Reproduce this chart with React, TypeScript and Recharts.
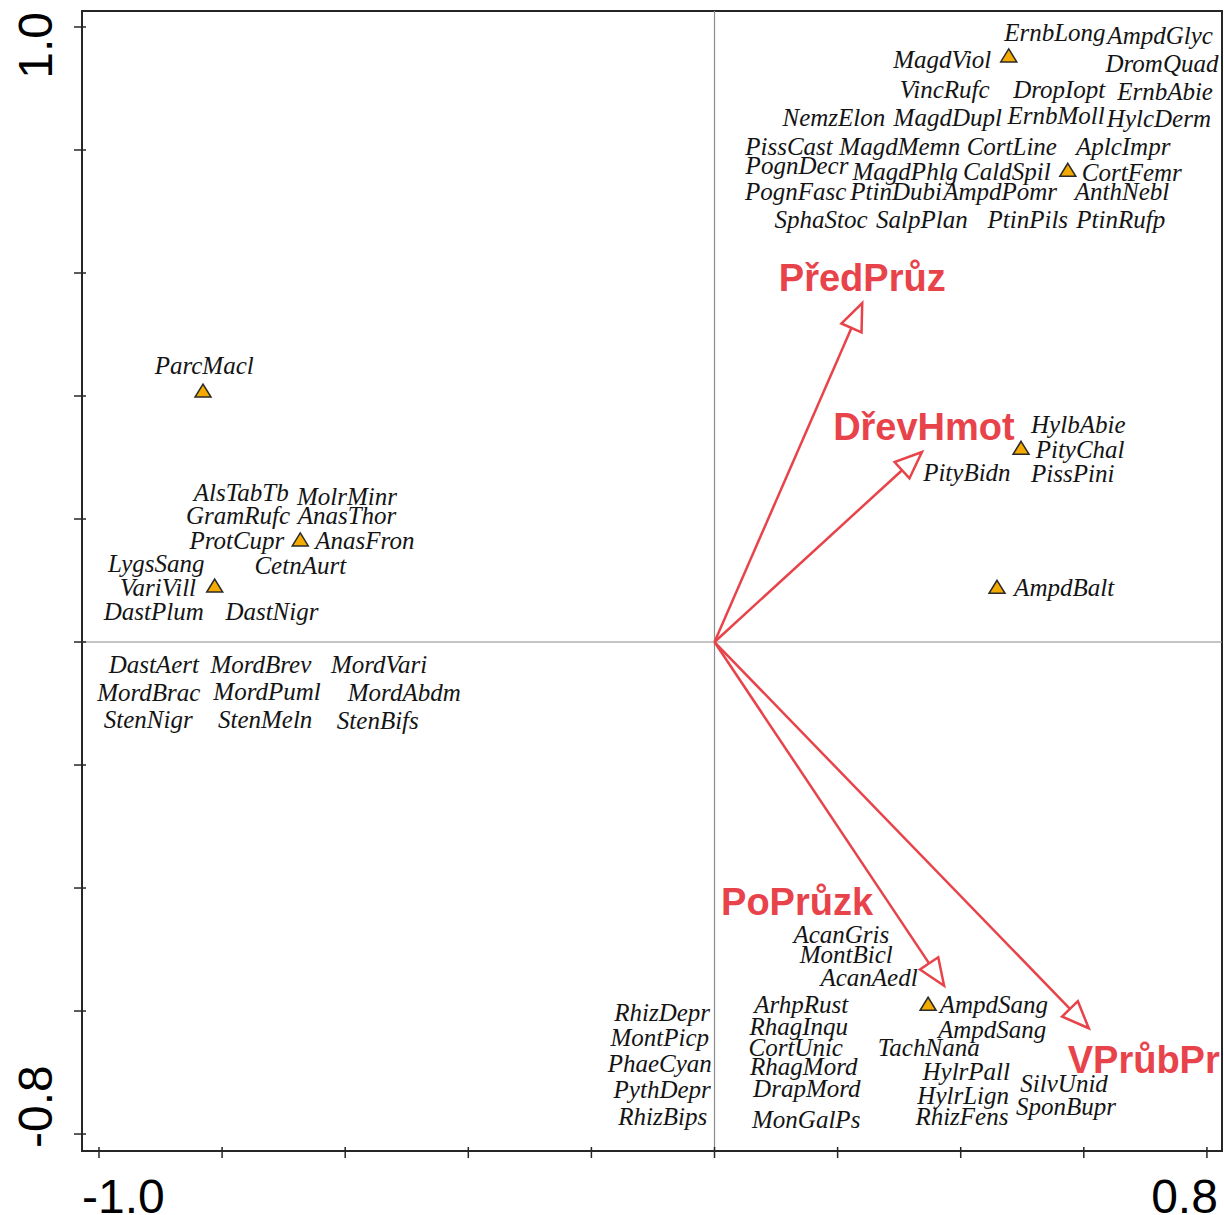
import React from 'react';
import {
  ScatterChart,
  Scatter,
  XAxis,
  YAxis,
  ReferenceLine,
  ReferenceArea,
} from 'recharts';

// Species scores (axis 1, axis 2), drawn as italic labels
const upperSpecies = [
  { name: 'ErnbLong', x: 0.553, y: 0.99 },
  { name: 'AmpdGlyc', x: 0.724, y: 0.985 },
  { name: 'MagdViol', x: 0.37, y: 0.946 },
  { name: 'DromQuad', x: 0.727, y: 0.941 },
  { name: 'VincRufc', x: 0.374, y: 0.898 },
  { name: 'DropIopt', x: 0.56, y: 0.898 },
  { name: 'ErnbAbie', x: 0.732, y: 0.894 },
  { name: 'NemzElon', x: 0.194, y: 0.852 },
  { name: 'MagdDupl', x: 0.379, y: 0.852 },
  { name: 'ErnbMoll', x: 0.555, y: 0.855 },
  { name: 'HylcDerm', x: 0.722, y: 0.85 },
  { name: 'PissCast', x: 0.121, y: 0.805 },
  { name: 'MagdMemn', x: 0.301, y: 0.805 },
  { name: 'CortLine', x: 0.483, y: 0.805 },
  { name: 'AplcImpr', x: 0.664, y: 0.805 },
  { name: 'PognDecr', x: 0.134, y: 0.774 },
  { name: 'MagdPhlg', x: 0.31, y: 0.764 },
  { name: 'CaldSpil', x: 0.475, y: 0.764 },
  { name: 'CortFemr', x: 0.678, y: 0.763 },
  { name: 'PognFasc', x: 0.132, y: 0.732 },
  { name: 'PtinDubi', x: 0.295, y: 0.732 },
  { name: 'AmpdPomr', x: 0.464, y: 0.732 },
  { name: 'AnthNebl', x: 0.662, y: 0.732 },
  { name: 'SphaStoc', x: 0.173, y: 0.686 },
  { name: 'SalpPlan', x: 0.337, y: 0.686 },
  { name: 'PtinPils', x: 0.509, y: 0.686 },
  { name: 'PtinRufp', x: 0.66, y: 0.686 },
];

const middleSpecies = [
  { name: 'HylbAbie', x: 0.591, y: 0.354 },
  { name: 'PityChal', x: 0.594, y: 0.312 },
  { name: 'PityBidn', x: 0.41, y: 0.275 },
  { name: 'PissPini', x: 0.582, y: 0.273 },
  { name: 'AmpdBalt', x: 0.568, y: 0.088 },
];

const leftSpecies = [
  { name: 'ParcMacl', x: -0.829, y: 0.449 },
  { name: 'AlsTabTb', x: -0.769, y: 0.242 },
  { name: 'MolrMinr', x: -0.597, y: 0.237 },
  { name: 'GramRufc', x: -0.774, y: 0.205 },
  { name: 'AnasThor', x: -0.597, y: 0.205 },
  { name: 'ProtCupr', x: -0.776, y: 0.164 },
  { name: 'AnasFron', x: -0.568, y: 0.164 },
  { name: 'LygsSang', x: -0.907, y: 0.128 },
  { name: 'CetnAurt', x: -0.673, y: 0.124 },
  { name: 'VariVill', x: -0.904, y: 0.089 },
  { name: 'DastPlum', x: -0.911, y: 0.05 },
  { name: 'DastNigr', x: -0.719, y: 0.049 },
  { name: 'DastAert', x: -0.911, y: -0.037 },
  { name: 'MordBrev', x: -0.737, y: -0.037 },
  { name: 'MordVari', x: -0.545, y: -0.037 },
  { name: 'MordBrac', x: -0.919, y: -0.083 },
  { name: 'MordPuml', x: -0.727, y: -0.081 },
  { name: 'MordAbdm', x: -0.504, y: -0.083 },
  { name: 'StenNigr', x: -0.92, y: -0.127 },
  { name: 'StenMeln', x: -0.73, y: -0.127 },
  { name: 'StenBifs', x: -0.547, y: -0.128 },
];

const lowerSpecies = [
  { name: 'AcanGris', x: 0.206, y: -0.476 },
  { name: 'MontBicl', x: 0.214, y: -0.509 },
  { name: 'AcanAedl', x: 0.251, y: -0.546 },
  { name: 'RhizDepr', x: -0.085, y: -0.602 },
  { name: 'MontPicp', x: -0.089, y: -0.644 },
  { name: 'PhaeCyan', x: -0.089, y: -0.685 },
  { name: 'PythDepr', x: -0.085, y: -0.728 },
  { name: 'RhizBips', x: -0.084, y: -0.772 },
  { name: 'ArhpRust', x: 0.141, y: -0.59 },
  { name: 'RhagInqu', x: 0.137, y: -0.626 },
  { name: 'CortUnic', x: 0.132, y: -0.659 },
  { name: 'RhagMord', x: 0.145, y: -0.691 },
  { name: 'DrapMord', x: 0.15, y: -0.727 },
  { name: 'MonGalPs', x: 0.149, y: -0.777 },
  { name: 'AmpdSang', x: 0.454, y: -0.589 },
  { name: 'AmpdSang', x: 0.451, y: -0.631 },
  { name: 'TachNana', x: 0.348, y: -0.659 },
  { name: 'HylrPall', x: 0.409, y: -0.698 },
  { name: 'HylrLign', x: 0.404, y: -0.737 },
  { name: 'RhizFens', x: 0.402, y: -0.772 },
  { name: 'SilvUnid', x: 0.568, y: -0.719 },
  { name: 'SponBupr', x: 0.571, y: -0.756 },
];

// Species shown with a symbol
const markedSpecies = [
  { x: 0.478, y: 0.953 },
  { x: 0.574, y: 0.767 },
  { x: -0.831, y: 0.408 },
  { x: -0.673, y: 0.166 },
  { x: -0.812, y: 0.091 },
  { x: 0.498, y: 0.315 },
  { x: 0.459, y: 0.089 },
  { x: 0.347, y: -0.589 },
];

// Environmental variables (arrow tips)
const envVectors = [
  { name: 'PředPrůz', x: 0.24, y: 0.551 },
  { name: 'DřevHmot', x: 0.337, y: 0.309 },
  { name: 'PoPrůzk', x: 0.373, y: -0.559 },
  { name: 'VPrůbPr', x: 0.608, y: -0.628 },
];

const xTicks = [-1, -0.8, -0.6, -0.4, -0.2, 0, 0.2, 0.4, 0.6, 0.8];
const yTicks = [-0.8, -0.6, -0.4, -0.2, 0, 0.2, 0.4, 0.6, 0.8, 1];

const X_DOMAIN: [number, number] = [-1.0276, 0.8245];
const Y_DOMAIN: [number, number] = [-0.8276, 1.026];

const RED = '#e8434a';
const FRAME = '#262626';
const SERIF = "'Liberation Serif', 'Times New Roman', serif";
const SANS = "'Liberation Sans', Arial, sans-serif";

// pixel offsets of the variable names from their arrow tips
const vectorLabelOffset: Record<string, [number, number]> = {
  'PředPrůz': [0, -12],
  'DřevHmot': [2, -12],
  'PoPrůzk': [-147, -71],
  'VPrůbPr': [55, 45],
};

const SpeciesLabel = (props: any) => {
  const { cx, cy, payload } = props;
  return (
    <text
      x={cx}
      y={cy}
      dy="0.33em"
      textAnchor="middle"
      fontFamily={SERIF}
      fontStyle="italic"
      fontSize={25}
      fill="#141414"
    >
      {payload.name}
    </text>
  );
};

const Triangle = (props: any) => {
  const { cx, cy } = props;
  return (
    <polygon
      points={`${cx},${cy - 7} ${cx + 8},${cy + 6} ${cx - 8},${cy + 6}`}
      fill="#f5aa00"
      stroke="#2a2a2a"
      strokeWidth={1.5}
      strokeLinejoin="miter"
    />
  );
};

const Arrow = (props: any) => {
  const { x1, y1, x2, y2, name } = props;
  const dx = x2 - x1;
  const dy = y2 - y1;
  const len = Math.hypot(dx, dy);
  const ux = dx / len;
  const uy = dy / len;
  const headLen = 27;
  const headHalf = 11;
  const bx = x2 - ux * headLen;
  const by = y2 - uy * headLen;
  const [ox, oy] = vectorLabelOffset[name] || [0, -12];
  return (
    <g>
      <line x1={x1} y1={y1} x2={bx} y2={by} stroke={RED} strokeWidth={2.5} />
      <polygon
        points={`${x2},${y2} ${bx - uy * headHalf},${by + ux * headHalf} ${bx + uy * headHalf},${by - ux * headHalf}`}
        fill="#fff"
        stroke={RED}
        strokeWidth={2.5}
      />
      <text
        x={x2 + ox}
        y={y2 + oy}
        textAnchor="middle"
        fontFamily={SANS}
        fontWeight="bold"
        fontSize={38}
        fill={RED}
      >
        {name}
      </text>
    </g>
  );
};

const XTick = (props: any) => {
  const { x, y, payload, index } = props;
  const last = xTicks.length - 1;
  return (
    <g>
      <line x1={x} y1={y - 4} x2={x} y2={y + 7} stroke={FRAME} strokeWidth={1.5} />
      {index === 0 && (
        <text x={x - 17} y={y + 62} textAnchor="start" fontFamily={SANS} fontSize={48} fill="#000">
          {payload.value.toFixed(1)}
        </text>
      )}
      {index === last && (
        <text x={x + 11} y={y + 62} textAnchor="end" fontFamily={SANS} fontSize={48} fill="#000">
          {payload.value.toFixed(1)}
        </text>
      )}
    </g>
  );
};

const YTick = (props: any) => {
  const { x, y, payload, index } = props;
  const last = yTicks.length - 1;
  const tx = x - 30;
  return (
    <g>
      <line x1={x - 8} y1={y} x2={x + 4} y2={y} stroke={FRAME} strokeWidth={1.5} />
      {index === 0 && (
        <text
          x={tx}
          y={y + 14}
          transform={`rotate(-90 ${tx} ${y + 14})`}
          textAnchor="start"
          fontFamily={SANS}
          fontSize={48}
          fill="#000"
        >
          {payload.value.toFixed(1)}
        </text>
      )}
      {index === last && (
        <text
          x={tx}
          y={y - 15}
          transform={`rotate(-90 ${tx} ${y - 15})`}
          textAnchor="end"
          fontFamily={SANS}
          fontSize={48}
          fill="#000"
        >
          {payload.value.toFixed(1)}
        </text>
      )}
    </g>
  );
};

export default function App() {
  return (
    <div style={{ position: 'absolute', left: 0, top: 0, width: 1224, height: 1215, background: '#fff' }}>
      <ScatterChart width={1224} height={1215} margin={{ top: 11, right: 2, bottom: 0, left: 0 }}>
        <XAxis
          type="number"
          dataKey="x"
          domain={X_DOMAIN}
          ticks={xTicks}
          interval={0}
          height={64}
          axisLine={false}
          tickLine={false}
          tickSize={0}
          tickMargin={0}
          tick={(p: any) => <XTick {...p} />}
        />
        <YAxis
          type="number"
          dataKey="y"
          domain={Y_DOMAIN}
          ticks={yTicks}
          interval={0}
          width={82}
          axisLine={false}
          tickLine={false}
          tickSize={0}
          tickMargin={0}
          tick={(p: any) => <YTick {...p} />}
        />
        <ReferenceLine x={0} stroke="#8c8c8c" strokeWidth={1.2} />
        <ReferenceLine y={0} stroke="#8c8c8c" strokeWidth={1.2} />
        <ReferenceArea
          x1={X_DOMAIN[0]}
          x2={X_DOMAIN[1]}
          y1={Y_DOMAIN[0]}
          y2={Y_DOMAIN[1]}
          fill="none"
          fillOpacity={0}
          stroke={FRAME}
          strokeWidth={2}
        />
        {envVectors.map((v) => (
          <ReferenceLine
            key={v.name}
            segment={[{ x: 0, y: 0 }, { x: v.x, y: v.y }]}
            shape={(p: any) => <Arrow {...p} name={v.name} />}
          />
        ))}
        <Scatter data={upperSpecies} shape={SpeciesLabel} isAnimationActive={false} />
        <Scatter data={middleSpecies} shape={SpeciesLabel} isAnimationActive={false} />
        <Scatter data={leftSpecies} shape={SpeciesLabel} isAnimationActive={false} />
        <Scatter data={lowerSpecies} shape={SpeciesLabel} isAnimationActive={false} />
        <Scatter data={markedSpecies} shape={Triangle} isAnimationActive={false} />
      </ScatterChart>
    </div>
  );
}
